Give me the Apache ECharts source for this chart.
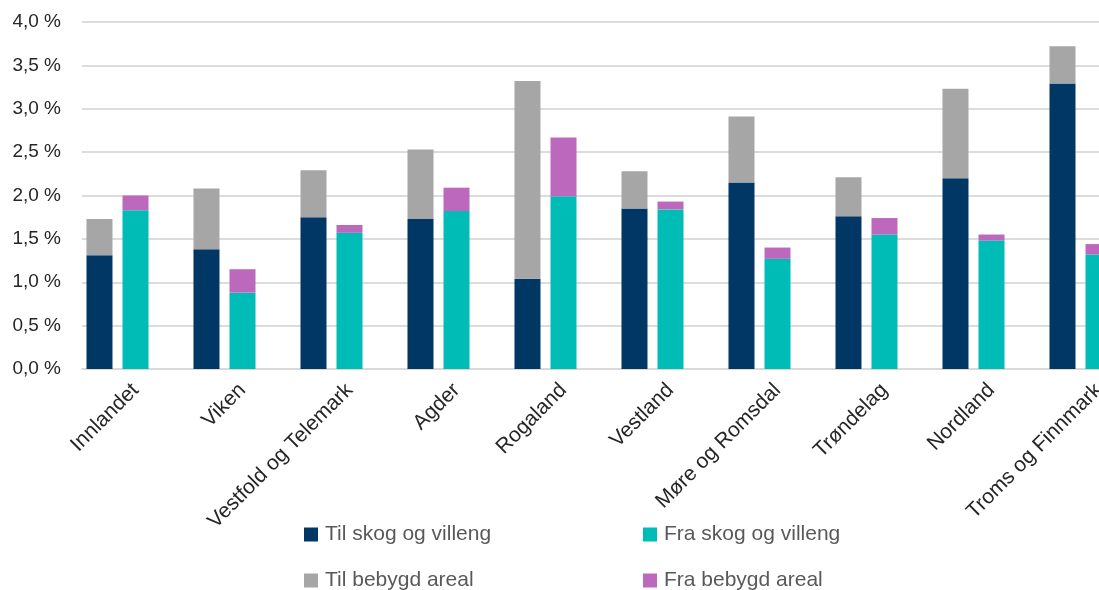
<!DOCTYPE html>
<html>
<head>
<meta charset="utf-8">
<script src="https://cdn.jsdelivr.net/npm/echarts@6/dist/echarts.min.js"></script>
<style>
  html, body { margin: 0; padding: 0; background: #ffffff; overflow: hidden; }
  #chart { width: 1099px; height: 590px; }
</style>
</head>
<body>
<div id="chart"></div>
<script>
// Regions (fylker)
const regions = ['Innlandet', 'Viken', 'Vestfold og Telemark', 'Agder', 'Rogaland',
  'Vestland', 'Møre og Romsdal', 'Trøndelag', 'Nordland', 'Troms og Finnmark'];

// Share of area changed, in percent
const tilSkog    = [1.31, 1.38, 1.75, 1.73, 1.04, 1.85, 2.15, 1.76, 2.20, 3.29];
const tilBebygd  = [0.42, 0.70, 0.54, 0.80, 2.28, 0.43, 0.76, 0.45, 1.03, 0.43];
const fraSkog    = [1.83, 0.88, 1.57, 1.82, 1.99, 1.84, 1.27, 1.55, 1.48, 1.32];
const fraBebygd  = [0.17, 0.27, 0.09, 0.27, 0.68, 0.09, 0.13, 0.19, 0.07, 0.12];

const seriesNames = ['Til skog og villeng', 'Fra skog og villeng', 'Til bebygd areal', 'Fra bebygd areal'];
const yTicks = { min: 0, max: 4, step: 0.5 };

const FONT = '"Liberation Sans", Arial, sans-serif';
const colors = { navy: '#003764', teal: '#00bcb6', grey: '#a6a6a6', magenta: '#bb68bd' };

const chart = echarts.init(document.getElementById('chart'), null, { renderer: 'canvas' });

function bar(name, data, stack, color) {
  return {
    name, type: 'bar', stack, data,
    barWidth: 26, barGap: '38.5%',
    itemStyle: { color },
    emphasis: { disabled: true }
  };
}

// one legend entry per block: two columns, two rows
function legendItem(name, left, top) {
  return {
    data: [name], left, top, padding: 0,
    itemWidth: 14, itemHeight: 14, itemGap: 6, icon: 'rect',
    textStyle: { fontFamily: FONT, fontSize: 21, color: '#595959', padding: [0, 0, 0, 2] }
  };
}

chart.setOption({
  animation: false,
  backgroundColor: '#ffffff',
  grid: { left: 82, top: 22, width: 1070, height: 347, containLabel: false, outerBoundsMode: 'none' },
  legend: [
    legendItem(seriesNames[0], 304, 524),
    legendItem(seriesNames[1], 643, 524),
    legendItem(seriesNames[2], 304, 570),
    legendItem(seriesNames[3], 643, 570)
  ],
  xAxis: {
    type: 'category',
    data: regions,
    axisLine: { show: true, lineStyle: { color: '#d9d9d9', width: 2 } },
    axisTick: { show: false },
    axisLabel: {
      interval: 0, rotate: 45, margin: 18,
      fontFamily: FONT, fontSize: 21, color: '#262626'
    }
  },
  yAxis: {
    type: 'value',
    min: yTicks.min, max: yTicks.max, interval: yTicks.step,
    axisLine: { show: false },
    axisTick: { show: false },
    splitLine: { lineStyle: { color: '#dcdcdc', width: 2 } },
    axisLabel: {
      margin: 21, fontFamily: FONT, fontSize: 19, color: '#262626',
      formatter: v => v.toFixed(1).replace('.', ',') + ' %'
    }
  },
  series: [
    bar(seriesNames[0], tilSkog, 'til', colors.navy),
    bar(seriesNames[1], fraSkog, 'fra', colors.teal),
    bar(seriesNames[2], tilBebygd, 'til', colors.grey),
    bar(seriesNames[3], fraBebygd, 'fra', colors.magenta),
    // empty third slot in each category keeps the pair left of centre
    bar('tom', regions.map(() => null), 'tom', 'transparent')
  ]
});
</script>
</body>
</html>
